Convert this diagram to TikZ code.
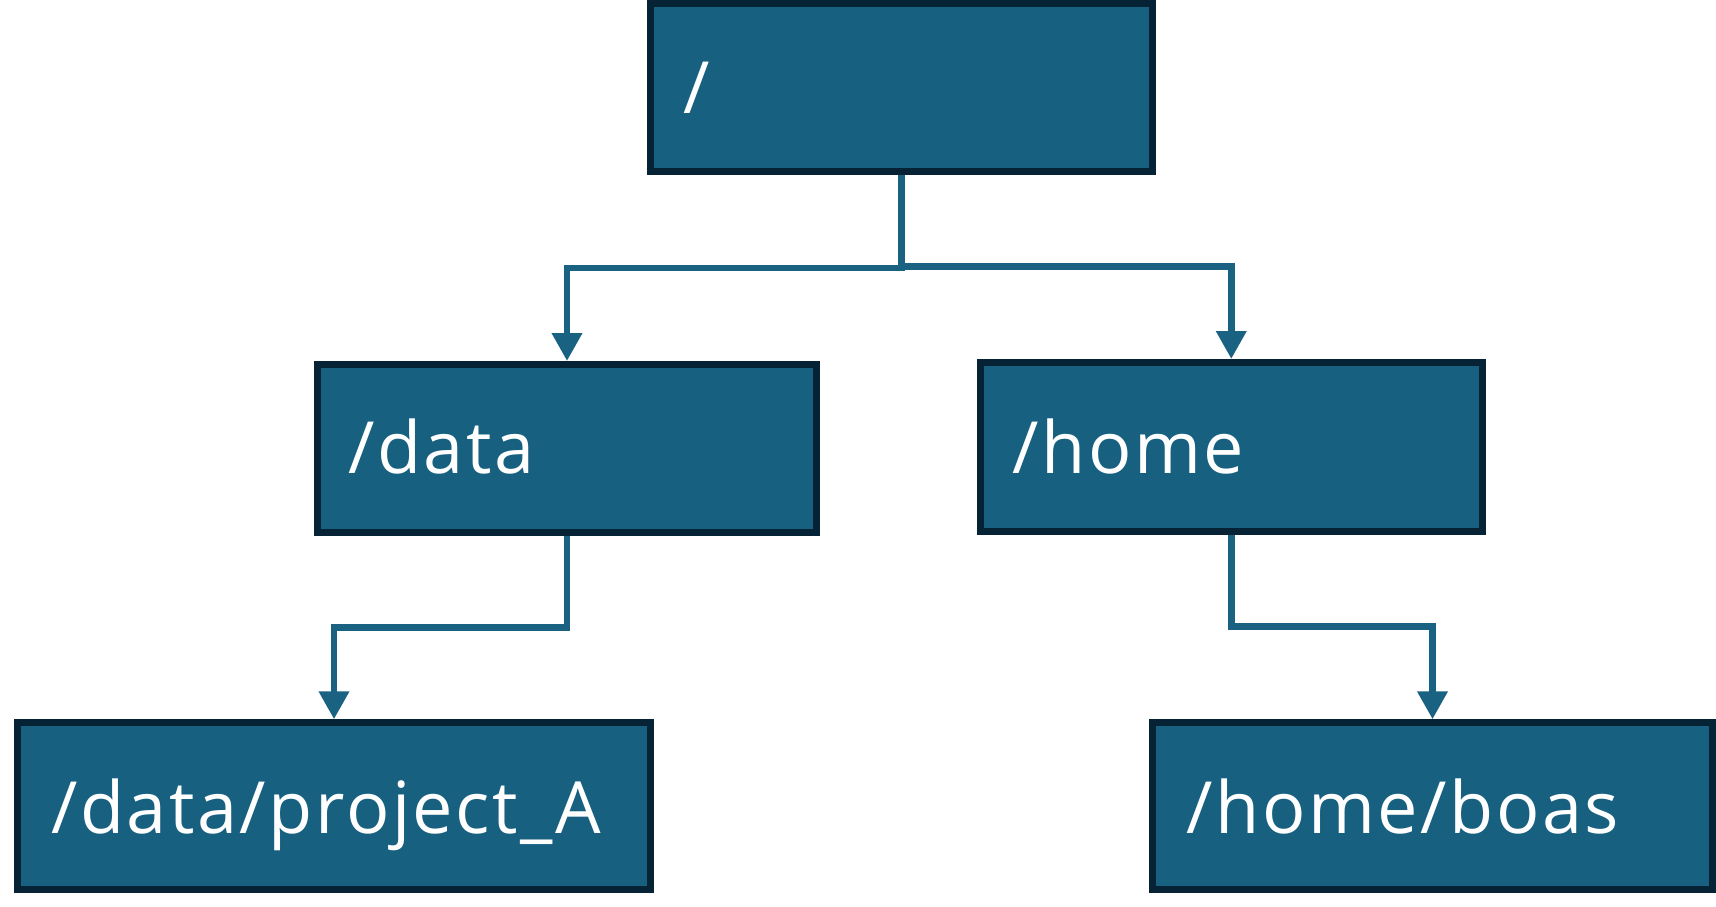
\documentclass[tikz,border=0pt]{standalone}
\usepackage{fontspec}
\setmainfont{Open Sans}
\newfontfamily\dirfont[LetterSpace=3.5]{Open Sans}
\usetikzlibrary{arrows.meta}
\definecolor{boxfill}{HTML}{17607F}
\definecolor{boxline}{HTML}{062336}
\definecolor{connc}{HTML}{1A6282}
\tikzset{
  dirbox/.style={draw=boxline, fill=boxfill, line width=3.5pt, inner sep=0pt, rectangle},
  dirlabel/.style={anchor=base west, inner sep=0pt, text=white, font=\dirfont\fontsize{36}{43}\selectfont},
  conn/.style={draw=connc, line width=3.4pt, -{Triangle[length=14pt,width=14.5pt]}},
}
\begin{document}
\begin{tikzpicture}[x=0.5pt,y=-0.5pt]
\useasboundingbox (0,0) rectangle (1716,906);
% boxes
\node[dirbox, minimum width=251pt, minimum height=84pt] (root) at (901.5,87.5) {};
\node[dirbox, minimum width=249.5pt, minimum height=83.75pt] (data) at (567,448.25) {};
\node[dirbox, minimum width=250.75pt, minimum height=84.25pt] (home) at (1231.25,446.75) {};
\node[dirbox, minimum width=316.25pt, minimum height=83.5pt] (proj) at (334,806.3) {};
\node[dirbox, minimum width=280pt, minimum height=83.5pt] (boas) at (1432.5,806.3) {};
% labels
\node[dirlabel] (troot) at (683,113) {/};
\node[dirlabel] (tdata) at (348,473) {/data};
\node[dirlabel] (thome) at (1012,473) {/home};
\node[dirlabel] (tproj) at (51,833) {/data/project\_A};
\node[dirlabel] (tboas) at (1186,833) {/home/boas};
% connectors
\draw[conn] (root.south) -- ++(0,93) -| (data.north);
\draw[conn] (root.south) -- ++(0,91.5) -| (home.north);
\draw[conn] (data.south) -- ++(0,92) -| (proj.north);
\draw[conn] (home.south) -- ++(0,92) -| (boas.north);
\end{tikzpicture}
\end{document}
